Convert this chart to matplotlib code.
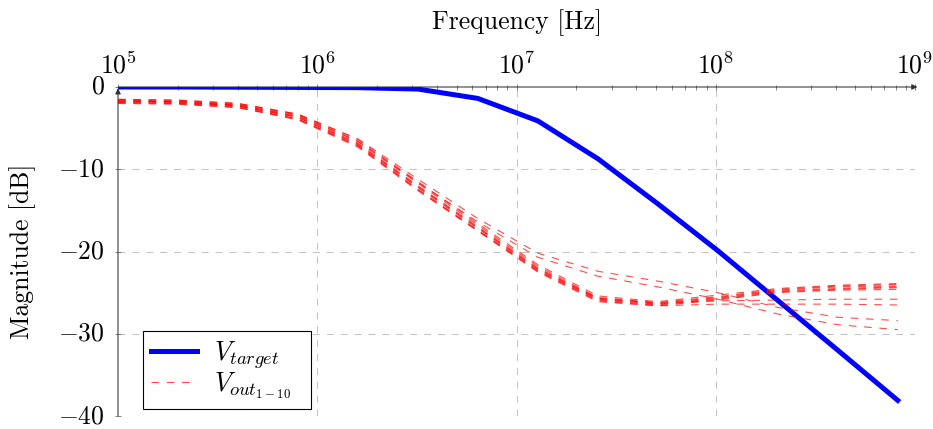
import matplotlib
matplotlib.use("Agg")
import matplotlib.pyplot as plt
from matplotlib.ticker import FixedLocator, LogLocator, NullFormatter

plt.rcParams["mathtext.fontset"] = "cm"
plt.rcParams["lines.scale_dashes"] = False

# Frequency sweep points [Hz]
freq = [1.0e5, 2.0e5, 4.0e5, 8.0e5, 1.6e6, 3.2e6, 6.4e6, 1.28e7,
        2.56e7, 5.12e7, 1.024e8, 2.048e8, 4.096e8, 8.192e8]

# Target magnitude response [dB]
v_target = [0.0, 0.0, -0.02, -0.05, -0.08, -0.25, -1.39, -4.12,
            -8.72, -14.2, -19.9, -25.95, -32.0, -38.1]

# Measured output magnitudes, runs 1-10 [dB]
v_out_1 = [-1.5, -1.6, -2.0, -3.3, -6.4, -11.5, -16.6, -21.6, -25.4, -26.1, -25.3, -24.5, -24.1, -23.9]
v_out_2 = [-1.6, -1.7, -2.1, -3.4, -6.6, -11.7, -16.8, -21.8, -25.6, -26.2, -25.5, -24.6, -24.2, -24.0]
v_out_3 = [-1.7, -1.8, -2.2, -3.6, -6.8, -12.0, -17.0, -22.0, -25.7, -26.3, -25.6, -24.7, -24.3, -24.2]
v_out_4 = [-1.8, -1.9, -2.3, -3.7, -7.0, -12.2, -17.2, -22.2, -25.8, -26.4, -25.7, -24.8, -24.5, -24.3]
v_out_5 = [-1.9, -2.0, -2.4, -3.9, -7.1, -12.4, -17.4, -22.3, -25.9, -26.5, -25.8, -24.9, -24.6, -24.4]
v_out_6 = [-2.0, -2.1, -2.5, -4.0, -7.3, -12.6, -17.5, -22.5, -26.1, -26.6, -25.9, -25.0, -24.7, -24.6]
v_out_7 = [-1.7, -1.8, -2.3, -3.7, -6.9, -12.1, -17.1, -22.1, -25.7, -26.3, -26.0, -25.9, -25.8, -25.8]
v_out_8 = [-1.9, -2.0, -2.5, -3.9, -7.2, -12.5, -17.5, -22.4, -26.0, -26.6, -26.4, -26.4, -26.4, -26.5]
v_out_9 = [-1.5, -1.6, -2.0, -3.3, -6.3, -11.2, -16.0, -20.2, -22.4, -23.6, -25.0, -26.8, -28.0, -28.4]
v_out_10 = [-1.7, -1.8, -2.2, -3.5, -6.6, -11.6, -16.4, -20.7, -23.0, -24.3, -25.8, -27.6, -28.9, -29.5]
v_out_runs = [v_out_1, v_out_2, v_out_3, v_out_4, v_out_5,
              v_out_6, v_out_7, v_out_8, v_out_9, v_out_10]

x_ticks = [1e5, 1e6, 1e7, 1e8, 1e9]
x_tick_labels = [r"$10^{5}$", r"$10^{6}$", r"$10^{7}$", r"$10^{8}$", r"$10^{9}$"]
y_ticks = [-40, -30, -20, -10, 0]
y_tick_labels = [r"$-40$", r"$-30$", r"$-20$", r"$-10$", r"$0$"]

W, H = 933, 429
ax_left, ax_right, ax_top, ax_bottom = 118, 915, 87, 416

fig = plt.figure(figsize=(W / 100, H / 100), dpi=100)
ax = fig.add_axes([ax_left / W, (H - ax_bottom) / H,
                   (ax_right - ax_left) / W, (ax_bottom - ax_top) / H])
ax_h = ax_bottom - ax_top
ax_w = ax_right - ax_left

ax.set_xscale("log")
ax.set_xlim(1e5, 1e9)
ax.set_ylim(-40, 0)

ax.plot(freq, v_target, color="#0000ff", lw=3.6, label=r"$V_{target}$", zorder=3)
for i, run in enumerate(v_out_runs):
    ax.plot(freq, run, color="red", lw=0.8, alpha=0.7, dashes=(5.5, 5.5),
            label=r"$V_{out_{1-10}}$" if i == 0 else None, zorder=4)

# dashed grid
grid_kw = dict(color="#c4c4c4", lw=0.75, dashes=(5.0, 5.0), zorder=1)
for xv in x_ticks[1:]:
    ax.axvline(xv, **grid_kw)
for yv in y_ticks[:-1]:
    ax.axhline(yv, **grid_kw)

for s in ax.spines.values():
    s.set_visible(False)

# axis lines with arrow heads
axis_col = "#303030"
ax.annotate("", xy=(1.003, 1.0), xytext=(0.0, 1.0), xycoords="axes fraction",
            arrowprops=dict(arrowstyle="-|>", color=axis_col, lw=0.75,
                            mutation_scale=8, shrinkA=0, shrinkB=0))
ax.annotate("", xy=(0.0, 0.996), xytext=(0.0, 0.0), xycoords="axes fraction",
            arrowprops=dict(arrowstyle="-|>", color=axis_col, lw=0.75,
                            mutation_scale=8, shrinkA=0, shrinkB=0))

ax.xaxis.tick_top()
ax.xaxis.set_major_locator(FixedLocator(x_ticks))
ax.set_xticklabels(x_tick_labels)
ax.xaxis.set_minor_locator(LogLocator(base=10, subs=range(2, 10), numticks=20))
ax.xaxis.set_minor_formatter(NullFormatter())
ax.tick_params(axis="x", which="major", direction="inout", length=5, width=0.6,
               color="#707070", labelsize=18.5, pad=3)
ax.tick_params(axis="x", which="minor", direction="inout", length=3.6, width=0.6,
               color="#707070")
ax.set_yticks(y_ticks)
ax.set_yticklabels(y_tick_labels, va="center")
ax.tick_params(axis="y", direction="inout", length=5, width=0.6,
               color="#707070", labelsize=18.5, pad=7)

ax.set_xlabel("Frequency [Hz]", fontfamily="cmr10", fontsize=18.5, va="baseline")
ax.xaxis.set_label_coords(0.5, (ax_bottom - 29) / ax_h)
ax.set_ylabel("Magnitude [dB]", fontfamily="cmr10", fontsize=18.5, va="center")
ax.yaxis.set_label_coords((23 - ax_left) / ax_w, 0.5)

leg = ax.legend(loc="lower left", mode="expand",
                bbox_to_anchor=((143 - ax_left) / ax_w, (ax_bottom - 409) / ax_h,
                                168 / ax_w, 76 / ax_h),
                borderaxespad=0, fontsize=19, frameon=True, fancybox=False,
                edgecolor="black", framealpha=1.0, handlelength=1.75,
                handletextpad=0.65, borderpad=0.3, labelspacing=0.0)
leg.get_frame().set_linewidth(0.8)

fig.savefig("out.png", dpi=100)
